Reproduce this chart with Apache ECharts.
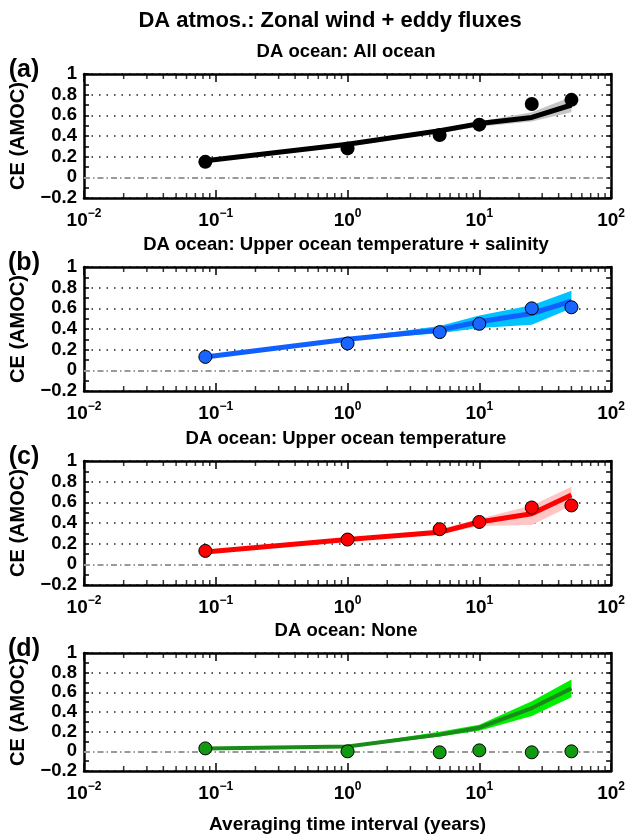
<!DOCTYPE html>
<html>
<head>
<meta charset="utf-8">
<script src="https://cdn.jsdelivr.net/npm/echarts@6/dist/echarts.min.js"></script>
<style>
  html, body { margin: 0; padding: 0; background: #fff; }
  #chart { width: 628px; height: 835px; }
</style>
</head>
<body>
<div id="chart"></div>
<script>
// averaging intervals (years)
const xValues = [1 / 12, 1, 5, 10, 25, 50];

const mainTitle = 'DA atmos.: Zonal wind + eddy fluxes';
const panelTitles = [
  'DA ocean: All ocean',
  'DA ocean: Upper ocean temperature + salinity',
  'DA ocean: Upper ocean temperature',
  'DA ocean: None',
];
const panelLetters = ['(a)', '(b)', '(c)', '(d)'];

// (a) all ocean
const dotsA = [0.15, 0.28, 0.41, 0.51, 0.71, 0.75];
const lineA = [0.16, 0.32, 0.45, 0.52, 0.58, 0.70];
const lowA = [0.15, 0.31, 0.43, 0.49, 0.54, 0.63];
const highA = [0.17, 0.34, 0.47, 0.54, 0.63, 0.78];

// (b) upper ocean T + S
const dotsB = [0.13, 0.26, 0.37, 0.45, 0.60, 0.61];
const lineB = [0.13, 0.30, 0.39, 0.47, 0.55, 0.67];
const lowB = [0.12, 0.29, 0.36, 0.41, 0.44, 0.60];
const highB = [0.14, 0.31, 0.43, 0.53, 0.63, 0.77];

// (c) upper ocean T
const dotsC = [0.13, 0.24, 0.34, 0.41, 0.55, 0.57];
const lineC = [0.12, 0.24, 0.31, 0.41, 0.49, 0.67];
const lowC = [0.11, 0.23, 0.29, 0.37, 0.38, 0.57];
const highC = [0.13, 0.25, 0.34, 0.44, 0.57, 0.75];

// (d) none
const dotsD = [0.03, 0.00, -0.01, 0.01, -0.01, 0.00];
const lineD = [0.03, 0.05, 0.17, 0.24, 0.44, 0.64];
const lowD = [0.02, 0.04, 0.15, 0.21, 0.36, 0.55];
const highD = [0.04, 0.06, 0.20, 0.27, 0.51, 0.73];

// log minor ticks: mantissas x decades
const tickMantissas = [2, 3, 4, 5, 6, 7, 8, 9];
const tickDecades = [0.01, 0.1, 1, 10];

const yMin = -0.2;
const yMax = 1;
const FONT = '"Liberation Sans", Arial, Helvetica, sans-serif';

const panels = [
  { dots: dotsA, line: lineA, low: lowA, high: highA, lineColor: '#000000', band: '#c6c6c6', dotColor: '#000000', dotBorder: 0, dotSize: 14, lineWidth: 5 },
  { dots: dotsB, line: lineB, low: lowB, high: highB, lineColor: '#1060ff', band: '#00c2ff', dotColor: '#1866ff', dotBorder: 1, dotSize: 13, lineWidth: 5 },
  { dots: dotsC, line: lineC, low: lowC, high: highC, lineColor: '#ff0000', band: '#ffc6c6', dotColor: '#ff0000', dotBorder: 1, dotSize: 13, lineWidth: 5 },
  { dots: dotsD, line: lineD, low: lowD, high: highD, lineColor: '#1a8a1a', band: '#00ee00', dotColor: '#119911', dotBorder: 1, dotSize: 13, lineWidth: 4 },
];

const gridTops = [74, 267, 461, 653];
const gridHeight = 124;
const gridLeft = 77;
const gridRight = 16;

const minorTickX = [];
tickDecades.forEach(d => tickMantissas.forEach(m => minorTickX.push(m * d)));

function expLabel(v) {
  const e = Math.round(Math.log10(v));
  return '{b|10}{s|' + (e < 0 ? '\u2212' + (-e) : e) + '}';
}

function yLabel(v) {
  if (v < 0) return '\u2212' + Math.abs(v);
  return String(v);
}

function bandRender(low, high, color) {
  return function (params, api) {
    const pts = [];
    xValues.forEach((x, i) => pts.push(api.coord([x, high[i]])));
    for (let i = xValues.length - 1; i >= 0; i--) {
      pts.push(api.coord([xValues[i], low[i]]));
    }
    return { type: 'polygon', shape: { points: pts }, style: { fill: color } };
  };
}

const grid = [];
const xAxis = [];
const yAxis = [];
const series = [];
const graphic = [];

graphic.push({
  type: 'text', x: 330, y: 21,
  style: { text: mainTitle, font: 'bold 22px ' + FONT, fill: '#000', textAlign: 'center', textVerticalAlign: 'middle', verticalAlign: 'middle' },
});

panels.forEach((p, i) => {
  const top = gridTops[i];
  grid.push({ left: gridLeft, right: gridRight, top: top, height: gridHeight });

  graphic.push({
    type: 'text', x: 346, y: top - 22,
    style: { text: panelTitles[i], font: 'bold 18.5px ' + FONT, fill: '#000', textAlign: 'center', textVerticalAlign: 'middle', verticalAlign: 'middle' },
  });
  graphic.push({
    type: 'text', x: 24, y: top - 4,
    style: { text: panelLetters[i], font: 'bold 25px ' + FONT, fill: '#000', textAlign: 'center', textVerticalAlign: 'middle', verticalAlign: 'middle' },
  });

  const axisLine = { show: true, onZero: false, lineStyle: { color: '#000', width: 2.5 } };
  xAxis.push({
    type: 'log', logBase: 10, gridIndex: i, min: 0.01, max: 100, position: 'bottom',
    axisLine: axisLine,
    axisTick: { inside: true, length: 8, lineStyle: { color: '#000', width: 1.5 } },
    axisLabel: {
      margin: 10,
      formatter: expLabel,
      rich: {
        b: { fontFamily: FONT, fontWeight: 'bold', fontSize: 19, color: '#000' },
        s: { fontFamily: FONT, fontWeight: 'bold', fontSize: 12, color: '#000', padding: [0, 0, 13, 0] },
      },
    },
    splitLine: { show: false },
    name: i === 3 ? 'Averaging time interval (years)' : '',
    nameLocation: 'middle',
    nameGap: 44,
    nameTextStyle: { fontFamily: FONT, fontWeight: 'bold', fontSize: 19, color: '#000' },
  });
  xAxis.push({
    type: 'log', logBase: 10, gridIndex: i, min: 0.01, max: 100, position: 'top',
    axisLine: axisLine,
    axisTick: { inside: true, length: 8, lineStyle: { color: '#000', width: 1.5 } },
    axisLabel: { show: false },
    splitLine: { show: false },
  });
  yAxis.push({
    type: 'value', gridIndex: i, min: yMin, max: yMax, interval: 0.2, position: 'left',
    axisLine: axisLine,
    axisTick: { inside: true, length: 5, lineStyle: { color: '#000', width: 1.5 } },
    minorTick: { show: true, splitNumber: 2, length: 5, lineStyle: { color: '#000', width: 1.5 } },
    axisLabel: { formatter: yLabel, margin: 7, fontFamily: FONT, fontWeight: 'bold', fontSize: 18.5, color: '#000' },
    splitLine: {
      show: true,
      lineStyle: { color: ['#222', 'rgba(0,0,0,0)', '#222', '#222', '#222', '#222', '#222'], type: [1.5, 6], width: 1.5 },
    },
    name: 'CE (AMOC)',
    nameLocation: 'middle',
    nameRotate: 90,
    nameGap: 56,
    nameTextStyle: { fontFamily: FONT, fontWeight: 'bold', fontSize: 20, color: '#000' },
  });
  yAxis.push({
    type: 'value', gridIndex: i, min: yMin, max: yMax, interval: 0.2, position: 'right',
    axisLine: axisLine,
    axisTick: { inside: true, length: 5, lineStyle: { color: '#000', width: 1.5 } },
    minorTick: { show: true, splitNumber: 2, length: 5, lineStyle: { color: '#000', width: 1.5 } },
    axisLabel: { show: false },
    splitLine: { show: false },
  });

  const xi = i * 2;
  const yi = i * 2;

  series.push({
    type: 'custom', xAxisIndex: xi, yAxisIndex: yi, z: 1, silent: true,
    renderItem: bandRender(p.low, p.high, p.band),
    data: [[xValues[0], p.low[0]]],
    markLine: {
      silent: true, symbol: 'none', label: { show: false }, z: 1,
      lineStyle: { color: '#9a9a9a', type: [6, 3, 1.5, 3], width: 1.8 },
      data: [{ yAxis: 0 }],
    },
  });
  // minor log ticks along bottom and top edges
  series.push({
    type: 'scatter', xAxisIndex: xi, yAxisIndex: yi, z: 6, silent: true, clip: false,
    symbol: 'rect', symbolSize: [1.5, 5], symbolOffset: [0, -2.5],
    itemStyle: { color: '#000' },
    data: minorTickX.map(v => [v, yMin]),
  });
  series.push({
    type: 'scatter', xAxisIndex: xi, yAxisIndex: yi, z: 6, silent: true, clip: false,
    symbol: 'rect', symbolSize: [1.5, 5], symbolOffset: [0, 2.5],
    itemStyle: { color: '#000' },
    data: minorTickX.map(v => [v, yMax]),
  });
  series.push({
    type: 'line', xAxisIndex: xi, yAxisIndex: yi, z: 2,
    data: xValues.map((x, k) => [x, p.line[k]]),
    showSymbol: false, symbol: 'none',
    lineStyle: { color: p.lineColor, width: p.lineWidth },
  });
  series.push({
    type: 'scatter', xAxisIndex: xi, yAxisIndex: yi, z: 3,
    data: xValues.map((x, k) => [x, p.dots[k]]),
    symbolSize: p.dotSize,
    itemStyle: { color: p.dotColor, borderColor: '#000', borderWidth: p.dotBorder, opacity: 1 },
  });
});

const chart = echarts.init(document.getElementById('chart'), null, { renderer: 'canvas' });
chart.setOption({
  animation: false,
  backgroundColor: '#fff',
  grid: grid,
  xAxis: xAxis,
  yAxis: yAxis,
  graphic: graphic,
  series: series,
});
</script>
</body>
</html>
